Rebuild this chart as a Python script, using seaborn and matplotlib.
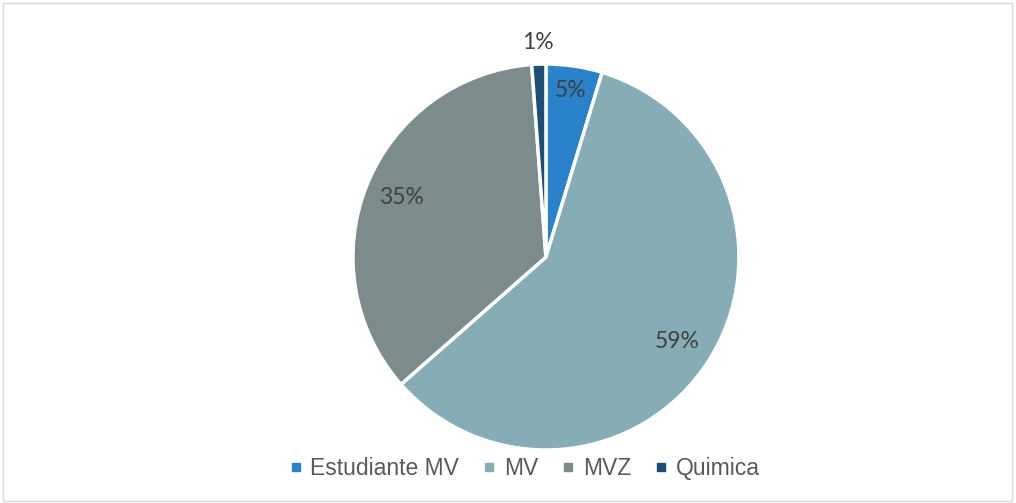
import numpy as np
import matplotlib.pyplot as plt
import seaborn as sns
from matplotlib.lines import Line2D

categories = ["Estudiante MV", "MV", "MVZ", "Quimica"]
counts = [4, 50, 30, 1]
colors = ["#2a82cb", "#86adb6", "#7c8c8c", "#1d4e75"]

sns.set_theme(style="white")
plt.rcParams["font.family"] = ["Lato", "DejaVu Sans"]

fig = plt.figure(figsize=(10.16, 5.03), dpi=100)
# square axes centred on the pie (centre ~ (546, 257) px, radius ~193 px)
ax = fig.add_axes([0.3094, 0.0286, 0.4559, 0.9209])

wedges, _ = ax.pie(
    counts,
    colors=colors,
    startangle=90,
    counterclock=False,
    radius=1.0,
    wedgeprops=dict(edgecolor="white", linewidth=2.5),
)
ax.set_aspect("equal")
ax.set_xlim(-1.2, 1.2)
ax.set_ylim(-1.2, 1.2)

total = sum(counts)
label_dist = [0.87, 0.81, 0.81, 1.11]
for w, c, d in zip(wedges, counts, label_dist):
    ang = np.deg2rad((w.theta1 + w.theta2) / 2)
    ax.text(d * np.cos(ang), d * np.sin(ang), f"{round(100 * c / total)}%",
            ha="center", va="center", fontsize=16.5, color="#404040")

handles = [Line2D([0], [0], marker="s", linestyle="", markersize=6,
                  markerfacecolor=col, markeredgecolor=col) for col in colors]
fig.legend(handles, categories, loc="center", bbox_to_anchor=(0.516, 0.068),
           ncol=4, frameon=False, handlelength=0.6, handletextpad=0.35,
           columnspacing=1.0, prop={"family": "Liberation Sans", "size": 16.5},
           labelcolor="#595959")

border = plt.Rectangle((0.003, 0.004), 0.993, 0.99, transform=fig.transFigure,
                       fill=False, edgecolor="#d9d9d9", linewidth=1)
fig.patches.append(border)

fig.savefig("out.png", dpi=100)
